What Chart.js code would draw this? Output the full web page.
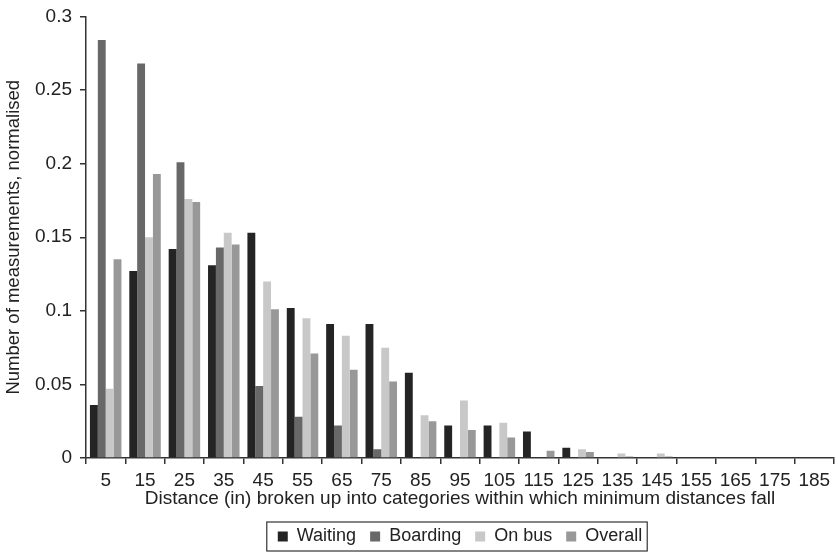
<!DOCTYPE html>
<html>
<head>
<meta charset="utf-8">
<script src="https://cdn.jsdelivr.net/npm/chart.js@4/dist/chart.umd.min.js"></script>
<style>
  html, body { margin: 0; padding: 0; background: #fff; }
  #wrap { width: 838px; height: 552px; }
</style>
</head>
<body>
<div id="wrap"><canvas id="distChart" width="838" height="552"></canvas></div>
<script>
// distance categories (inches)
const categories = ['5', '15', '25', '35', '45', '55', '65', '75', '85', '95', '105', '115', '125', '135', '145', '155', '165', '175', '185'];

const waiting  = [0.036, 0.127, 0.142, 0.131, 0.153, 0.102, 0.091, 0.091, 0.058, 0.022, 0.022, 0.018, 0.007, 0, 0, 0, 0, 0, 0];
const boarding = [0.284, 0.268, 0.201, 0.143, 0.049, 0.028, 0.022, 0.006, 0, 0, 0, 0, 0, 0, 0, 0, 0, 0, 0];
const onBus    = [0.047, 0.150, 0.176, 0.153, 0.120, 0.095, 0.083, 0.075, 0.029, 0.039, 0.024, 0, 0.006, 0.003, 0.003, 0, 0, 0, 0];
const overall  = [0.135, 0.193, 0.174, 0.145, 0.101, 0.071, 0.060, 0.052, 0.025, 0.019, 0.014, 0.005, 0.004, 0.001, 0.001, 0, 0, 0, 0];

const yTicks = [0, 0.05, 0.1, 0.15, 0.2, 0.25, 0.3];

const FONT = 'Liberation Sans, Arial, sans-serif';
const INK = '#222';

// box round the legend, like the original figure
const legendFrame = {
    id: 'legendFrame',
    afterDraw(chart) {
        const boxes = chart.legend && chart.legend.legendHitBoxes;
        if (!boxes || !boxes.length) return;
        const left = Math.min(...boxes.map(b => b.left));
        const right = Math.max(...boxes.map(b => b.left + b.width));
        const top = Math.min(...boxes.map(b => b.top));
        const bottom = Math.max(...boxes.map(b => b.top + b.height));
        const ctx = chart.ctx;
        ctx.save();
        ctx.strokeStyle = '#333';
        ctx.lineWidth = 1.2;
        ctx.strokeRect(left - 11, top - 5.5, right - left + 16, bottom - top + 11);
        ctx.restore();
    }
};

const ctx = document.getElementById('distChart').getContext('2d');
new Chart(ctx, {
    type: 'bar',
    data: {
        labels: categories,
        datasets: [
            { label: 'Waiting', data: waiting, backgroundColor: '#242424' },
            { label: 'Boarding', data: boarding, backgroundColor: '#686868' },
            { label: 'On bus', data: onBus, backgroundColor: '#c8c8c8' },
            { label: 'Overall', data: overall, backgroundColor: '#989898' }
        ]
    },
    options: {
        responsive: false,
        animation: false,
        devicePixelRatio: 1,
        layout: { padding: { left: 0, right: 4, top: 16.5, bottom: -3.5 } },
        datasets: { bar: { categoryPercentage: 0.8, barPercentage: 1.0 } },
        plugins: {
            tooltip: { enabled: false },
            legend: {
                position: 'bottom',
                fullSize: false,
                labels: {
                    color: INK,
                    font: { family: FONT, size: 18 },
                    boxWidth: 10,
                    boxHeight: 10,
                    padding: 14
                }
            }
        },
        scales: {
            x: {
                offset: true,
                grid: { display: true, offset: true, drawOnChartArea: false, drawTicks: true, tickLength: 6, color: '#333', lineWidth: 1.5 },
                border: { display: true, color: '#333', width: 1.5 },
                ticks: { color: INK, font: { family: FONT, size: 19 }, padding: 5, maxRotation: 0, autoSkip: false },
                title: {
                    display: true,
                    text: 'Distance (in) broken up into categories within which minimum distances fall',
                    color: INK,
                    font: { family: FONT, size: 19 },
                    padding: { top: 0, bottom: 3 }
                },
                afterFit(scale) { scale.height = 55.5; }
            },
            y: {
                min: 0,
                max: 0.3,
                afterBuildTicks(scale) { scale.ticks = yTicks.map(v => ({ value: v })); },
                grid: { display: true, drawOnChartArea: false, drawTicks: true, tickLength: 6, color: '#333', lineWidth: 1.5 },
                border: { display: true, color: '#333', width: 1.5 },
                ticks: {
                    color: INK,
                    font: { family: FONT, size: 19 },
                    padding: 8,
                    callback: v => String(v)
                },
                title: {
                    display: true,
                    text: 'Number of measurements, normalised',
                    color: INK,
                    font: { family: FONT, size: 18.5 },
                    padding: { top: 3, bottom: 0 }
                },
                afterFit(scale) {
                    scale.width = 86;
                    scale.paddingTop = 0;
                }
            }
        }
    },
    plugins: [legendFrame]
});
</script>
</body>
</html>
